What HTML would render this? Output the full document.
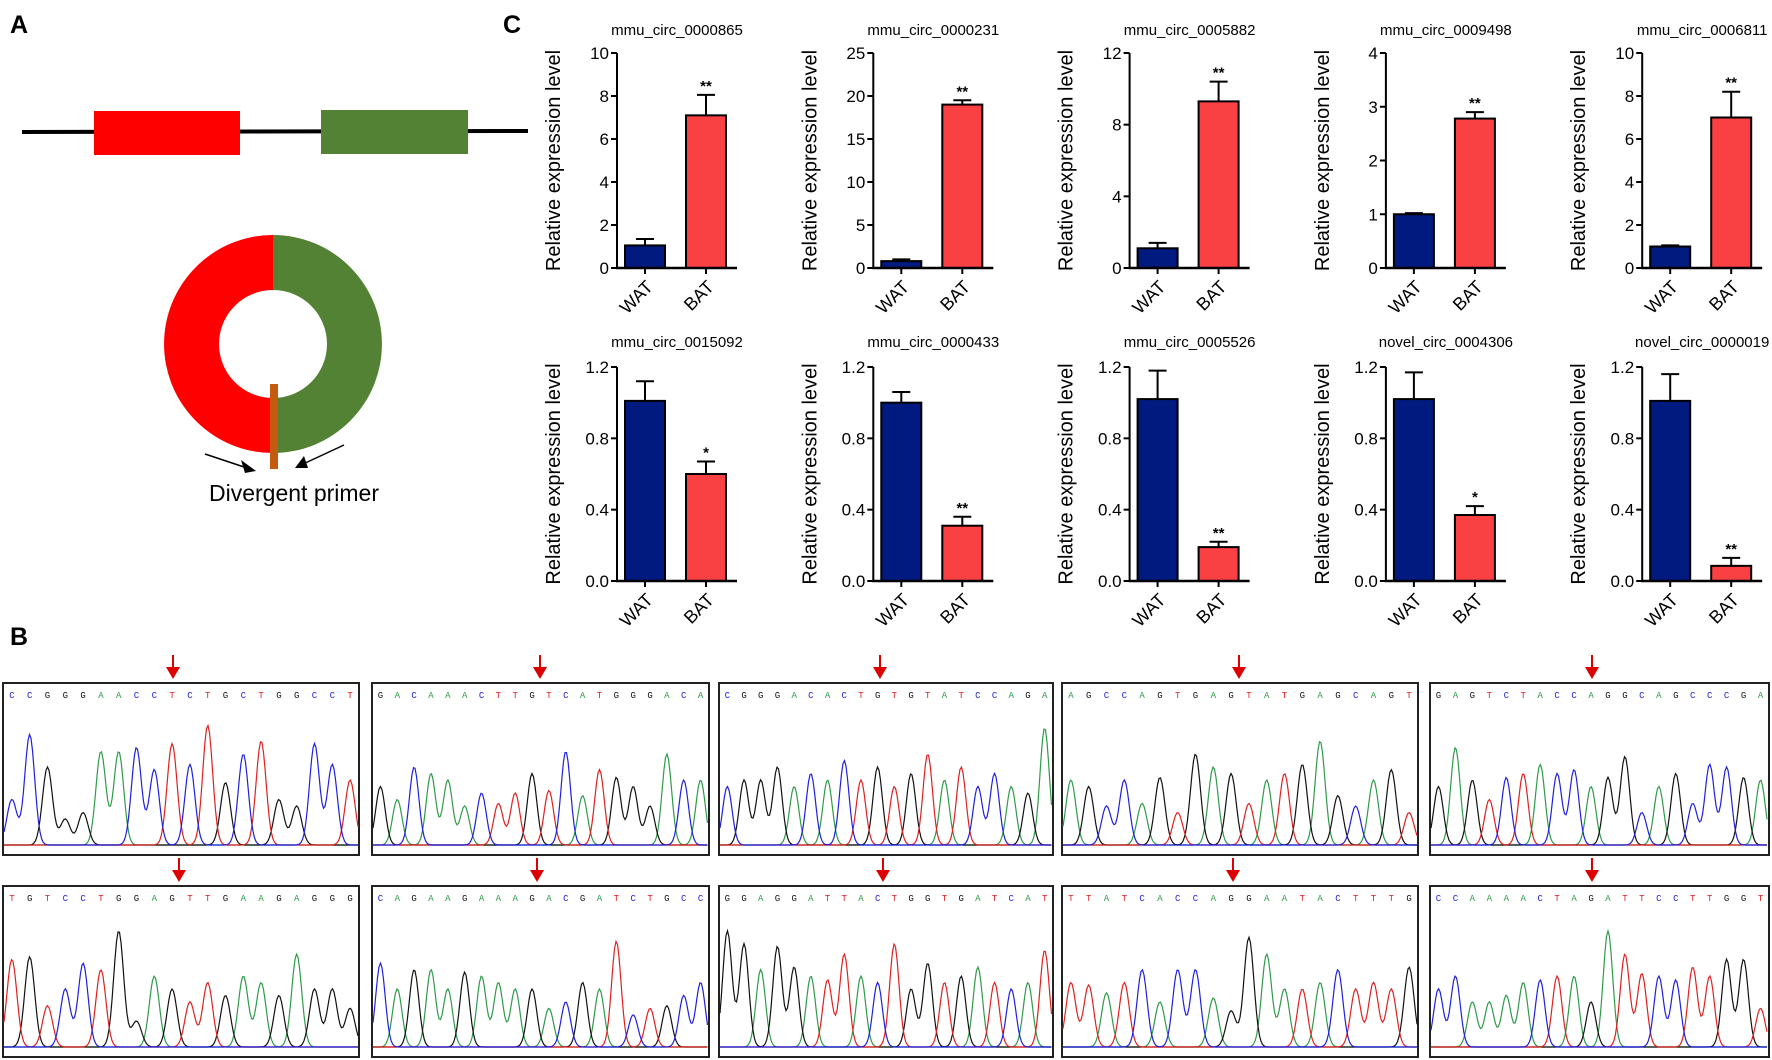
<!DOCTYPE html>
<html><head><meta charset="utf-8"><style>
html,body{margin:0;padding:0;background:#fff}
svg{display:block;font-family:"Liberation Sans",Arial,sans-serif}
</style></head><body>
<svg id="fig" width="1772" height="1060" viewBox="0 0 1772 1060" xmlns="http://www.w3.org/2000/svg">
<g>
<text x="10" y="33" font-size="25" font-weight="bold">A</text>
<line x1="22" y1="132" x2="528" y2="131" stroke="#000" stroke-width="4"/>
<rect x="94" y="111" width="146" height="44" fill="#ff0000"/>
<rect x="321" y="110" width="147" height="44" fill="#548235"/>
<path d="M273,235 A109,109 0 0 0 273,453 L273,398 A54,54 0 0 1 273,290 Z" fill="#ff0000"/>
<path d="M273,235 A109,109 0 0 1 273,453 L273,398 A54,54 0 0 0 273,290 Z" fill="#548235"/>
<rect x="270" y="384" width="8" height="85" fill="#c55a11"/>
<line x1="205" y1="454" x2="250" y2="469" stroke="#000" stroke-width="1.5"/>
<polygon points="256,471 241,460 245,473" fill="#000"/>
<line x1="344" y1="445" x2="301" y2="465" stroke="#000" stroke-width="1.5"/>
<polygon points="295,468 304,456 308,468" fill="#000"/>
<text x="294" y="501" font-size="23" text-anchor="middle">Divergent primer</text>
</g>
<text x="503" y="33" font-size="25" font-weight="bold">C</text>
<text x="10" y="645" font-size="25" font-weight="bold">B</text>
<g id="charts"></g>
<g id="chroma"></g>
</svg>
<script>
const NS="http://www.w3.org/2000/svg";
const chartTitles=["mmu_circ_0000865","mmu_circ_0000231","mmu_circ_0005882","mmu_circ_0009498","mmu_circ_0006811","mmu_circ_0015092","mmu_circ_0000433","mmu_circ_0005526","novel_circ_0004306","novel_circ_0000019"];
const categories=["WAT","BAT"];
const watValues=[1.05,0.8,1.1,1.0,1.0,1.01,1.0,1.02,1.02,1.01];
const watErrors=[0.3,0.2,0.3,0.02,0.05,0.11,0.06,0.16,0.15,0.15];
const batValues=[7.1,19.0,9.3,2.78,7.0,0.6,0.31,0.19,0.37,0.085];
const batErrors=[0.95,0.5,1.1,0.12,1.2,0.07,0.05,0.03,0.05,0.045];
const significance=["**","**","**","**","**","*","**","**","*","**"];
const yMax=[10,25,12,4,10,1.2,1.2,1.2,1.2,1.2];
const yTicks=[[0,2,4,6,8,10],[0,5,10,15,20,25],[0,4,8,12],[0,1,2,3,4],[0,2,4,6,8,10],[0.0,0.4,0.8,1.2],[0.0,0.4,0.8,1.2],[0.0,0.4,0.8,1.2],[0.0,0.4,0.8,1.2],[0.0,0.4,0.8,1.2]];
const yTickLabels=[["0","2","4","6","8","10"],["0","5","10","15","20","25"],["0","4","8","12"],["0","1","2","3","4"],["0","2","4","6","8","10"],["0.0","0.4","0.8","1.2"],["0.0","0.4","0.8","1.2"],["0.0","0.4","0.8","1.2"],["0.0","0.4","0.8","1.2"],["0.0","0.4","0.8","1.2"]];

function mk(tag,attrs,parent,text){const e=document.createElementNS(NS,tag);for(const k in attrs)e.setAttribute(k,attrs[k]);if(text!==undefined)e.textContent=text;parent.appendChild(e);return e;}
const charts=document.getElementById('charts');
for(let i=0;i<10;i++){
  const row=Math.floor(i/5),col=i%5;
  const ax=617+256.3*col;
  const yTop=row?367:53, yBot=row?581:268;
  const ys=v=>yBot-(v/yMax[i])*(yBot-yTop);
  const g=mk('g',{},charts);
  
  
  const t=mk('text',{x:ax+60,y:row?347:35,'font-size':15,'text-anchor':'middle'},g,chartTitles[i]);
  
  
  const yl=mk('text',{x:0,y:0,'font-size':20,'text-anchor':'middle',transform:`translate(${ax-57},${(yTop+yBot)/2}) rotate(-90)`},g,"Relative expression level");
  
  
  yTicks[i].forEach((tv,k)=>{
    const y=ys(tv);
    const tl=mk('line',{x1:ax-6,y1:y,x2:ax,y2:y,stroke:'#000','stroke-width':2},g);
    
    
    const tx=mk('text',{x:ax-8,y:y+6,'font-size':17,'text-anchor':'end'},g,yTickLabels[i][k]);
    
    
  });
  const vals=[watValues[i],batValues[i]],errs=[watErrors[i],batErrors[i]],cols=['#001a80','#f94144'];
  vals.forEach((v,k)=>{
    const cx=ax+(k?89:28);
    const e=mk('line',{x1:cx,y1:ys(v),x2:cx,y2:ys(v+errs[k]),stroke:'#000','stroke-width':2},g);
    
    
    const c=mk('line',{x1:cx-9,y1:ys(v+errs[k]),x2:cx+9,y2:ys(v+errs[k]),stroke:'#000','stroke-width':2},g);
    
    
    const b=mk('rect',{x:cx-20,y:ys(v),width:40,height:Math.max(0,yBot-ys(v)),fill:cols[k],stroke:'#000','stroke-width':2},g);
    
    
    const xt=mk('line',{x1:cx,y1:yBot,x2:cx,y2:yBot+6,stroke:'#000','stroke-width':2},g);
    
    
    const xl=mk('text',{x:0,y:0,'font-size':18,'text-anchor':'end',transform:`translate(${cx+9},${yBot+20}) rotate(-45)`},g,categories[k]);
    
    
  });
  const s=mk('text',{x:ax+89,y:ys(batValues[i]+batErrors[i])-4,'font-size':15,'font-weight':'bold','text-anchor':'middle'},g,significance[i]);
  
  
  const ya=mk('line',{x1:ax,y1:yTop,x2:ax,y2:yBot+1,stroke:'#000','stroke-width':2},g);
  
  
  const xa=mk('line',{x1:ax-1,y1:yBot,x2:ax+120,y2:yBot,stroke:'#000','stroke-width':2.5},g);
  
  
}

// Chromatograms
const sequences=["CCGGGAACCTCTGCTGGCCT","GACAAACTTGTCATGGGACA","CGGGACACTGTGTATCCAGA","AGCCAGTGAGTATGAGCAGT","GAGTCTACCAGGCAGCCCGA",
"TGTCCTGGAGTTGAAGAGGG","CAGAAGAAAGACGATCTGCC","GGAGGATTACTGGTGATCAT","TTATCACCAGGAATACTTTG","CCAAAACTAGATTCCTTGGT"];
const peakHeights=[
[0.35,0.85,0.6,0.2,0.25,0.72,0.72,0.75,0.58,0.78,0.62,0.92,0.48,0.7,0.8,0.35,0.3,0.78,0.62,0.5],
[0.45,0.35,0.6,0.55,0.5,0.3,0.4,0.32,0.4,0.55,0.42,0.72,0.38,0.58,0.52,0.45,0.3,0.7,0.5,0.5],
[0.45,0.5,0.5,0.6,0.45,0.55,0.5,0.65,0.5,0.6,0.45,0.55,0.7,0.5,0.6,0.45,0.55,0.45,0.4,0.9],
[0.5,0.45,0.3,0.5,0.32,0.52,0.25,0.7,0.6,0.55,0.32,0.5,0.55,0.62,0.8,0.38,0.3,0.5,0.58,0.25],
[0.45,0.75,0.5,0.35,0.52,0.55,0.62,0.55,0.58,0.45,0.52,0.68,0.25,0.45,0.55,0.32,0.62,0.6,0.52,0.5],
[0.68,0.7,0.32,0.45,0.65,0.6,0.9,0.2,0.55,0.45,0.35,0.5,0.4,0.55,0.5,0.4,0.72,0.45,0.45,0.3],
[0.65,0.45,0.6,0.6,0.45,0.58,0.55,0.5,0.45,0.45,0.3,0.35,0.5,0.45,0.82,0.25,0.3,0.32,0.4,0.5],
[0.9,0.8,0.6,0.78,0.62,0.55,0.52,0.72,0.55,0.5,0.8,0.45,0.65,0.5,0.55,0.62,0.5,0.45,0.5,0.75],
[0.5,0.48,0.42,0.5,0.6,0.35,0.6,0.6,0.38,0.28,0.85,0.72,0.45,0.45,0.5,0.6,0.45,0.5,0.45,0.62],
[0.45,0.55,0.35,0.35,0.4,0.5,0.52,0.55,0.55,0.35,0.9,0.72,0.57,0.55,0.52,0.62,0.55,0.68,0.68,0.3]];
const boxCols=[[3,359],[372,709],[719,1053],[1062,1418],[1430,1769]];
const boxRows=[[683,855],[886,1057]];
const arrowX=[173,540,880,1239,1592,179,537,883,1233,1592];
const baseColors={A:'#2e9b4a',C:'#1f1fe0',G:'#111',T:'#e02020'};
const chroma=document.getElementById('chroma');
for(let i=0;i<10;i++){
  const r=Math.floor(i/5),c=i%5;
  const x0=boxCols[c][0],x1=boxCols[c][1],y0=boxRows[r][0],y1=boxRows[r][1];
  const w=x1-x0,h=y1-y0,seq=sequences[i],n=seq.length,step=w/n;
  const g=mk('g',{},chroma);
  
  
  const bx=mk('rect',{x:x0,y:y0,width:w,height:h,fill:'#fff',stroke:'#222','stroke-width':2},g);
  
  
  for(let k=0;k<n;k++){
    const lt=mk('text',{x:x0+(k+0.5)*step,y:y0+15,'font-size':9,'font-family':'Liberation Mono,monospace','text-anchor':'middle',fill:baseColors[seq[k]]},g,seq[k]);
    
    
  }
  const base=y1-10, amp=h-42, sig=step*0.28;
  for(const b of "AGTC"){
    let d='';
    for(let x=x0+1;x<=x1-1;x+=1.5){
      let v=0;
      for(let k=0;k<n;k++){if(seq[k]!==b)continue;const dx=x-(x0+(k+0.5)*step);v+=peakHeights[i][k]*Math.exp(-dx*dx/(2*sig*sig));}
      d+=(d?'L':'M')+x.toFixed(1)+','+(base-v*amp).toFixed(1);
    }
    const p=mk('path',{d:d,fill:'none',stroke:baseColors[b],'stroke-width':1.2},g);
    
    
  }
  const ar=mk('line',{x1:arrowX[i],y1:y0-28,x2:arrowX[i],y2:y0-14,stroke:'#d00','stroke-width':2},g);
  
  
  const ah=mk('polygon',{points:`${arrowX[i]-7},${y0-16} ${arrowX[i]+7},${y0-16} ${arrowX[i]},${y0-4}`,fill:'#d00'},g);
  
  
}
</script>
</body></html>
